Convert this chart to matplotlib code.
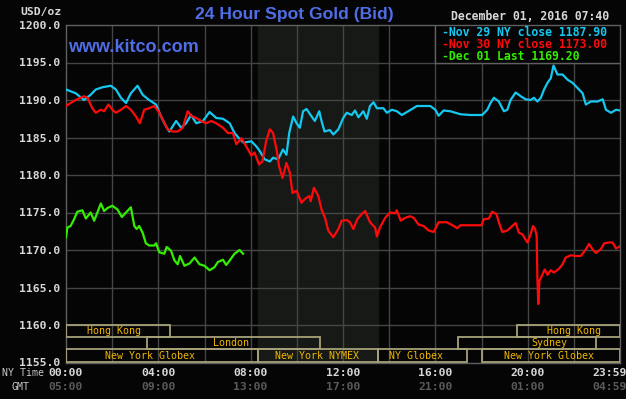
import matplotlib.pyplot as plt
import matplotlib.transforms as mtransforms
from matplotlib.patches import Rectangle

# hours since 00:00 NY time and bid prices
nov29_hours = [0, 0.42, 0.78, 1.07, 1.29, 1.58, 1.94, 2.16, 2.38, 2.6, 2.81, 3.1, 3.32, 3.6, 3.9,
               4.12, 4.33, 4.48, 4.77, 4.99, 5.2, 5.42, 5.64, 5.93, 6.22, 6.51, 6.8, 7.09, 7.3,
               7.52, 7.7, 8.03, 8.25, 8.39, 8.61, 8.83, 8.97, 9.19, 9.4, 9.55, 9.67, 9.84, 9.99,
               10.13, 10.27, 10.42, 10.64, 10.78, 10.97, 11.07, 11.2, 11.43, 11.58, 11.8, 12.01,
               12.16, 12.38, 12.52, 12.67, 12.88, 13.03, 13.17, 13.32, 13.47, 13.75, 13.9, 14.12,
               14.33, 14.55, 14.77, 14.99, 15.2, 15.49, 15.78, 16.0, 16.14, 16.36, 16.65, 17.09,
               17.52, 18.03, 18.25, 18.39, 18.54, 18.75, 18.97, 19.12, 19.26, 19.48, 19.7, 19.91,
               20.13, 20.27, 20.42, 20.57, 20.71, 20.86, 21.0, 21.12, 21.29, 21.51, 21.73, 21.94,
               22.16, 22.38, 22.52, 22.74, 23.03, 23.25, 23.39, 23.61, 23.83, 24.0]
nov29_price = [1191.4, 1190.9, 1190.0, 1190.7, 1191.4, 1191.7, 1191.9, 1191.4, 1190.3, 1189.6,
               1190.9, 1191.9, 1190.7, 1190.0, 1189.4, 1187.8, 1186.5, 1185.8, 1187.2, 1186.3,
               1186.9, 1188.0, 1186.9, 1187.2, 1188.4, 1187.6, 1187.5, 1186.9, 1185.6, 1184.8,
               1184.3, 1184.5, 1183.8, 1183.2, 1182.1, 1181.8, 1182.3, 1182.1, 1183.4, 1182.7,
               1185.6, 1187.8, 1186.9, 1186.3, 1188.5, 1188.8, 1187.8, 1187.2, 1188.5, 1187.2,
               1185.8, 1186.0, 1185.4, 1186.1, 1187.6, 1188.3, 1188.0, 1188.6, 1187.7, 1188.5,
               1187.5, 1189.2, 1189.7, 1188.9, 1188.9, 1188.3, 1188.7, 1188.5, 1188.0, 1188.4,
               1188.8, 1189.2, 1189.2, 1189.2, 1188.7, 1187.9, 1188.6, 1188.5, 1188.1, 1188.0,
               1188.0, 1188.7, 1189.6, 1190.3, 1189.8, 1188.5, 1188.7, 1190.0, 1191.0, 1190.5,
               1190.1, 1190.0, 1190.3, 1189.8, 1190.3, 1191.4, 1192.3, 1192.9, 1194.6, 1193.4,
               1193.4, 1192.7, 1192.3, 1191.6, 1190.9, 1189.4, 1189.8, 1189.8, 1190.1, 1188.7,
               1188.3, 1188.7, 1188.6]

nov30_hours = [0, 0.2, 0.42, 0.78, 0.93, 1.14, 1.29, 1.51, 1.65, 1.84, 2.01, 2.16, 2.38, 2.6,
               2.81, 3.03, 3.2, 3.39, 3.6, 3.83, 4.04, 4.19, 4.4, 4.62, 4.84, 5.06, 5.27, 5.42,
               5.64, 5.86, 6.07, 6.29, 6.51, 6.8, 7.01, 7.23, 7.38, 7.6, 7.81, 8.03, 8.17, 8.36,
               8.51, 8.67, 8.83, 8.97, 9.12, 9.23, 9.38, 9.55, 9.7, 9.81, 9.99, 10.2, 10.35,
               10.54, 10.6, 10.74, 10.93, 11.07, 11.22, 11.36, 11.58, 11.8, 11.94, 12.16, 12.3,
               12.45, 12.62, 12.81, 12.96, 13.17, 13.39, 13.47, 13.6, 13.83, 14.04, 14.26, 14.33,
               14.5, 14.7, 14.91, 15.06, 15.27, 15.49, 15.71, 15.93, 16.14, 16.5, 16.8, 16.95,
               17.09, 18.0, 18.1, 18.32, 18.46, 18.65, 18.75, 18.9, 19.12, 19.26, 19.48, 19.62,
               19.77, 19.99, 20.13, 20.23, 20.32, 20.39, 20.42, 20.46, 20.51, 20.59, 20.74,
               20.86, 21.0, 21.14, 21.36, 21.51, 21.65, 21.87, 22.09, 22.3, 22.48, 22.66, 22.81,
               22.96, 23.17, 23.32, 23.54, 23.68, 23.83, 24.0]
nov30_price = [1189.2, 1189.6, 1190.0, 1190.5, 1190.3, 1188.9, 1188.3, 1188.7, 1188.5, 1189.4,
               1188.7, 1188.3, 1188.7, 1189.2, 1188.7, 1187.8, 1186.9, 1188.7, 1188.9, 1189.2,
               1188.3, 1187.4, 1186.1, 1185.8, 1185.8, 1186.3, 1188.5, 1187.9, 1187.6, 1187.2,
               1186.9, 1187.2, 1186.9, 1186.3, 1185.6, 1185.6, 1184.1, 1184.9, 1183.8, 1182.6,
               1183.0, 1181.4, 1181.8, 1184.5, 1186.1, 1185.6, 1183.4, 1181.2, 1179.6, 1181.6,
               1180.3, 1177.6, 1177.9, 1176.3, 1176.8, 1177.2, 1176.5, 1178.3, 1177.2, 1175.4,
               1174.3, 1172.6, 1171.7, 1172.8, 1173.9, 1174.0, 1173.7, 1172.8, 1174.1, 1174.8,
               1175.2, 1173.7, 1173.0, 1171.8, 1173.0, 1174.3, 1175.0, 1174.9, 1175.3, 1173.9,
               1174.3, 1174.5, 1174.3, 1173.4, 1173.2, 1172.6, 1172.4, 1173.7, 1173.7, 1173.2,
               1172.9, 1173.3, 1173.3, 1174.1, 1174.2, 1175.1, 1174.8, 1173.7, 1172.4, 1172.6,
               1173.0, 1173.6, 1172.3, 1172.1, 1171.0, 1172.1, 1173.2, 1172.8, 1171.9, 1166.4,
               1162.8, 1165.9, 1166.4, 1167.4, 1166.7, 1167.3, 1167.0, 1167.5, 1168.1, 1169.0,
               1169.3, 1169.2, 1169.2, 1169.9, 1170.8, 1170.1, 1169.6, 1170.1, 1170.9, 1171.0,
               1171.0, 1170.2, 1170.5]

dec01_hours = [0, 0.06, 0.2, 0.35, 0.49, 0.71, 0.86, 1.07, 1.22, 1.36, 1.51, 1.65, 1.8, 2.01,
               2.23, 2.42, 2.6, 2.81, 2.96, 3.06, 3.17, 3.32, 3.46, 3.6, 3.83, 3.9, 4.04, 4.26,
               4.36, 4.55, 4.7, 4.84, 4.94, 5.13, 5.35, 5.57, 5.78, 6.0, 6.22, 6.43, 6.58, 6.8,
               6.94, 7.09, 7.3, 7.52, 7.67]
dec01_price = [1171.7, 1173.0, 1173.2, 1174.1, 1175.1, 1175.3, 1174.2, 1175.0, 1173.9, 1175.0,
               1176.2, 1175.2, 1175.6, 1175.9, 1175.4, 1174.4, 1175.0, 1175.7, 1173.2, 1172.8,
               1173.2, 1172.3, 1170.9, 1170.6, 1170.6, 1170.9, 1169.7, 1169.5, 1170.4, 1169.9,
               1168.6, 1168.1, 1169.2, 1167.9, 1168.2, 1169.0, 1168.1, 1167.9, 1167.3, 1167.7,
               1168.4, 1168.7, 1168.0, 1168.6, 1169.5, 1170.0, 1169.5]

legend_labels = ["-Nov 29 NY close 1187.90", "-Nov 30 NY close 1173.00", "-Dec 01 Last 1169.20"]

ny_time_labels = ["00:00", "04:00", "08:00", "12:00", "16:00", "20:00", "23:59"]
gmt_labels = ["05:00", "09:00", "13:00", "17:00", "21:00", "01:00", "04:59"]
label_hours = [0, 4, 8, 12, 16, 20, 24]

# trading sessions: name, start hour, end hour, row, label hour
sessions = [
    ("Hong Kong", 0, 4.5, 0, 2.1),
    ("Hong Kong", 19.53, 24, 0, 22.0),
    ("London", 3.5, 11.0, 1, 7.15),
    ("Sydney", 17.0, 22.95, 1, 20.95),
    ("New York Globex", 0, 8.3, 2, 3.65),
    ("New York NYMEX", 8.3, 13.53, 2, 10.87),
    ("NY Globex", 13.53, 17.36, 2, 15.15),
    ("New York Globex", 18.04, 24, 2, 20.93),
]

BLUE = "#14c8f0"
RED = "#ff0a0a"
GREEN = "#33ee00"
MONO = "DejaVu Sans Mono"

fig = plt.figure(figsize=(6.26, 3.99), dpi=100, facecolor="#050505")
ax = fig.add_axes([66 / 626, 1 - 362.5 / 399, 554 / 626, 337.5 / 399])
ax.set_facecolor("#050505")
ax.set_xlim(0, 24)
ax.set_ylim(1155, 1200)

# NYMEX open shading
ax.axvspan(8.3, 13.53, color="#161916", zorder=0)

for h in range(2, 24, 2):
    ax.axvline(h, color="#454545", lw=1, zorder=1)
for p in range(1160, 1200, 5):
    ax.axhline(p, color="#454545", lw=1, zorder=1)

for s in ax.spines.values():
    s.set_color("#606060")
    s.set_linewidth(1)

ax.plot(nov29_hours, nov29_price, color=BLUE, lw=1.6, zorder=4)
ax.plot(nov30_hours, nov30_price, color=RED, lw=1.6, zorder=4)
ax.plot(dec01_hours, dec01_price, color=GREEN, lw=1.6, zorder=4)

# session boxes
row_h = 1.63
for name, x0, x1, row, lx in sessions:
    top = 1160 - row * row_h
    ax.add_patch(Rectangle((x0, top - row_h), x1 - x0, row_h, fill=False,
                           edgecolor="#a7a27a", lw=1.3, zorder=3))
    ax.text(lx, top - row_h / 2, name, color="#f0b800", fontsize=7.2, family=MONO,
            ha="center", va="center", zorder=5)

# y tick labels
ax.set_xticks([])
ax.set_yticks(range(1155, 1201, 5))
ax.set_yticklabels([f"{v:.1f}" for v in range(1155, 1201, 5)], color="#d8d8d8",
                   fontsize=8.2, family=MONO, fontweight="bold")
ax.tick_params(axis="y", length=0, pad=4)

# time labels under the axes
trans = mtransforms.blended_transform_factory(ax.transData, fig.transFigure)
for h, ny, gmt in zip(label_hours, ny_time_labels, gmt_labels):
    ha = "right" if h == 24 else "center"
    xh = 24.3 if h == 24 else h
    ax.text(xh, 1 - 373 / 399, ny, transform=trans, color="#d8d8d8", fontsize=8.2,
            family=MONO, fontweight="bold", ha=ha, va="center")
    ax.text(xh, 1 - 387 / 399, gmt, transform=trans, color="#5a5a5a", fontsize=8.2,
            family=MONO, fontweight="bold", ha=ha, va="center")
fig.text(2 / 626, 1 - 373 / 399, "NY Time", color="#c8c8c8", fontsize=7.1, family=MONO,
         va="center")
fig.text(12 / 626, 1 - 387 / 399, "GMT", color="#c8c8c8", fontsize=7.1, family=MONO,
         va="center")

fig.text(62 / 626, 1 - 12 / 399, "USD/oz", color="#d8d8d8", fontsize=8.2, family=MONO,
         fontweight="bold", ha="right", va="center")
fig.text(294 / 626, 1 - 14 / 399, "24 Hour Spot Gold (Bid)", color="#4f6ee6", fontsize=12.6,
         family="Liberation Sans", fontweight="bold", ha="center", va="center")
fig.text(68 / 626, 1 - 47 / 399, "www.kitco.com", color="#4f6ee6", fontsize=13,
         family="Liberation Sans", fontweight="bold", ha="left", va="center")
fig.text(609 / 626, 1 - 17 / 399, "December 01, 2016 07:40", color="#d8d8d8", fontsize=8.3,
         family=MONO, fontweight="bold", ha="right", va="center")

# legend box
ax.add_patch(Rectangle((16.0, 1194.9), 8.0, 5.1, facecolor="#050505", edgecolor="#606060",
                       lw=1, zorder=6))
for i, (lab, col) in enumerate(zip(legend_labels, [BLUE, RED, GREEN])):
    fig.text(442 / 626, 1 - (32 + i * 12.3) / 399, lab, color=col, fontsize=8.3, family=MONO,
             fontweight="bold", ha="left", va="center", zorder=7)

fig.savefig("out.png", dpi=100, facecolor=fig.get_facecolor())
